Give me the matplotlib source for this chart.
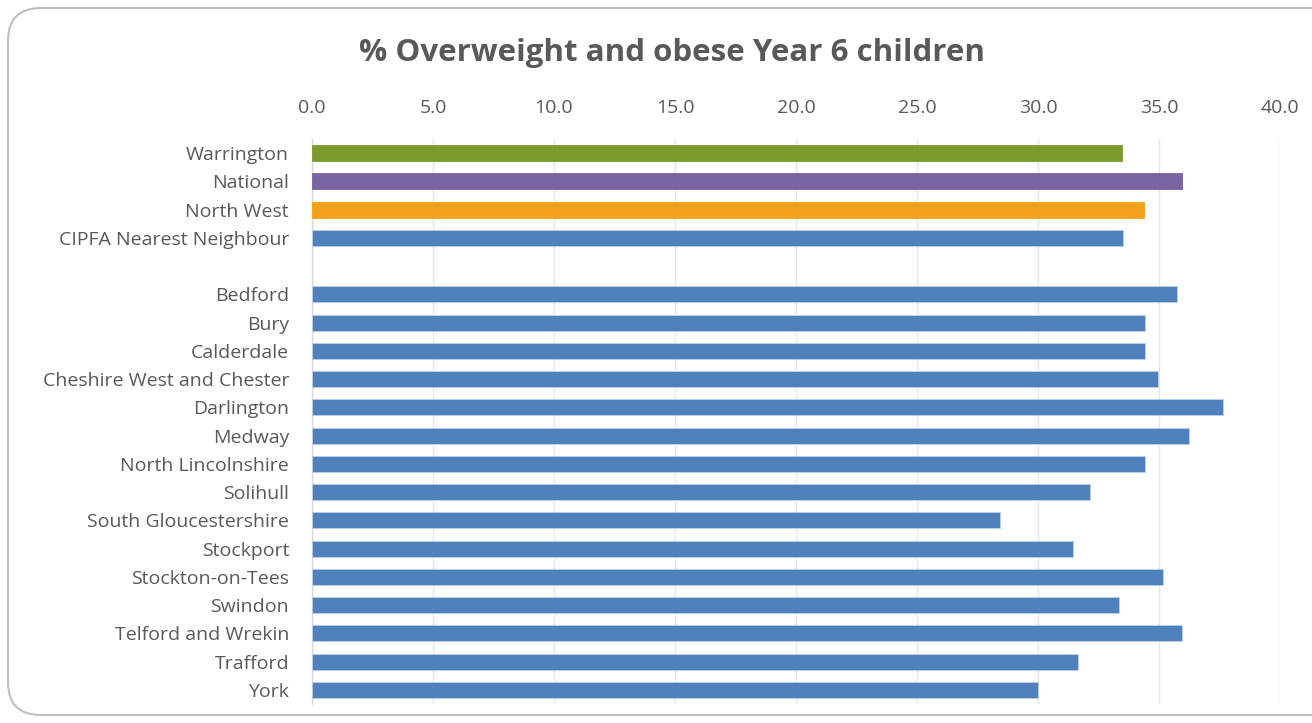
import matplotlib
matplotlib.use("Agg")
import matplotlib.pyplot as plt
from matplotlib.patches import FancyBboxPatch

categories = ["Warrington", "National", "North West", "CIPFA Nearest Neighbour", "",
              "Bedford", "Bury", "Calderdale", "Cheshire West and Chester", "Darlington",
              "Medway", "North Lincolnshire", "Solihull", "South Gloucestershire",
              "Stockport", "Stockton-on-Tees", "Swindon", "Telford and Wrekin",
              "Trafford", "York"]
values = [33.46, 35.94, 34.36, 33.51, None,
          35.74, 34.41, 34.41, 34.95, 37.64,
          36.22, 34.41, 32.13, 28.42,
          31.44, 35.16, 33.35, 35.94,
          31.66, 30.02]
colors = ["#7A9A2E", "#7864A0", "#F5A01A", "#4F81BD", "#4F81BD"] + ["#4F81BD"] * 15
xticks = [0, 5, 10, 15, 20, 25, 30, 35, 40]

plt.rcParams['font.family'] = ['Open Sans', 'DejaVu Sans']

fig = plt.figure(figsize=(13.12, 7.23), dpi=100)
W, H = 1312, 723
ax = fig.add_axes([312 / W, 1 - 704 / H, (1280 - 312) / W, (704 - 139) / H])

ys = list(range(len(categories)))
for y, v, c in zip(ys, values, colors):
    if v is None:
        continue
    ax.barh(y, v, height=0.57, color=c, edgecolor="#BFD0E6" if c == "#4F81BD" else c,
            linewidth=0.6, zorder=3)

ax.set_xlim(0, 40)
ax.set_ylim(len(categories) - 0.5, -0.5)
ax.set_yticks(ys)
ax.set_yticklabels(categories, fontsize=14, color="#595959")
ax.set_xticks(xticks)
ax.set_xticklabels([f"{t:.1f}" for t in xticks], fontsize=14, color="#595959")
ax.xaxis.tick_top()
ax.tick_params(axis="x", length=0, pad=15.5)
ax.tick_params(axis="y", length=0, pad=16.5)
ax.grid(axis="x", color="#E6E6E6", linewidth=1, zorder=0)
for s in ["top", "right", "bottom"]:
    ax.spines[s].set_visible(False)
ax.spines["left"].set_color("#D9D9D9")
ax.spines["left"].set_linewidth(1)

fig.text(0.512, 1 - 53 / H, "% Overweight and obese Year 6 children", ha="center", va="center",
         fontsize=22.5, fontweight="bold", color="#595959")

border = FancyBboxPatch((8 / W, 8 / H), (W + 40) / W, (H - 16) / H,
                        boxstyle="round,pad=0,rounding_size=0.025",
                        transform=fig.transFigure, fill=False, edgecolor="#BFBFBF",
                        linewidth=1.5, mutation_aspect=W / H)
fig.patches.append(border)

fig.savefig("out.png", dpi=100)
